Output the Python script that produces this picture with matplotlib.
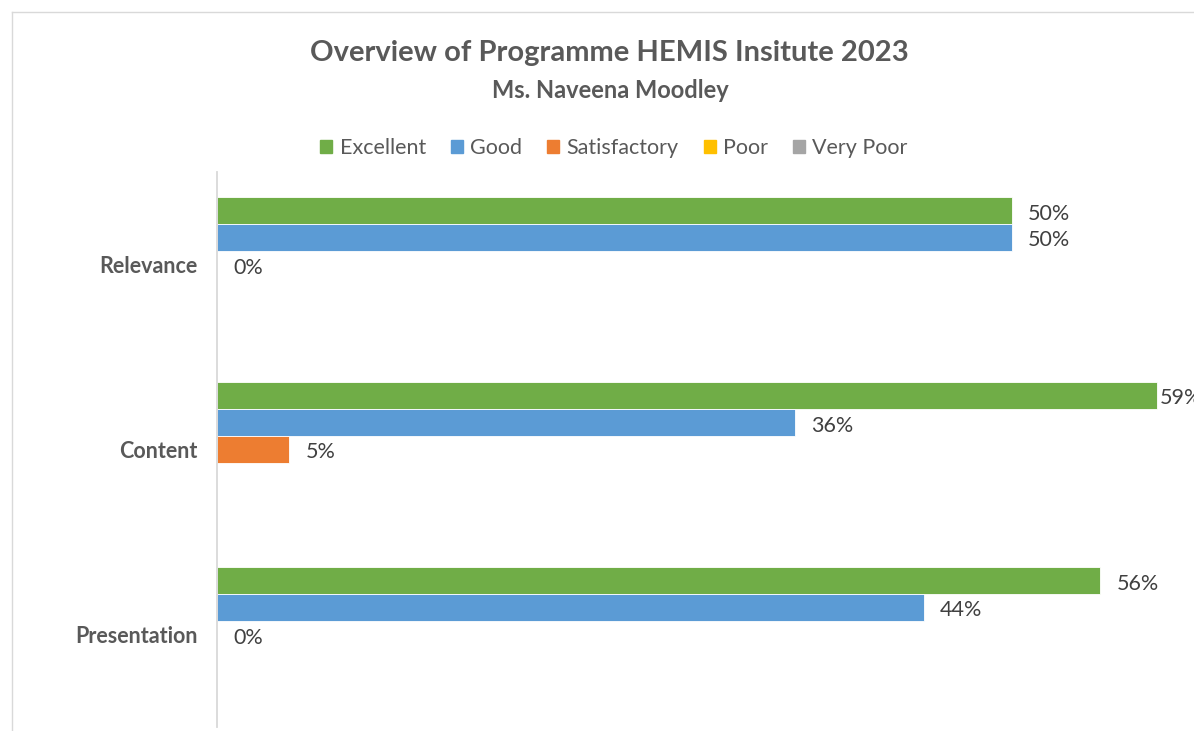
import numpy as np
import matplotlib.pyplot as plt
from matplotlib.patches import Patch
from matplotlib.lines import Line2D

plt.rcParams['font.family'] = ['Lato', 'DejaVu Sans']

categories = ['Relevance', 'Content', 'Presentation']
series_names = ['Excellent', 'Good', 'Satisfactory', 'Poor', 'Very Poor']
colors = ['#70AD47', '#5B9BD5', '#ED7D31', '#FFC000', '#A5A5A5']

excellent = [0.50, 0.5909, 0.5556]
good = [0.50, 0.3636, 0.4444]
satisfactory = [0.0, 0.0455, 0.0]
poor = [np.nan, np.nan, np.nan]
very_poor = [np.nan, np.nan, np.nan]
values = [excellent, good, satisfactory, poor, very_poor]

W, H = 1194, 731
fig = plt.figure(figsize=(W / 100, H / 100), dpi=100)

# chart frame (partly cropped in the reference)
fig.add_artist(Line2D([12 / W, 12 / W], [0, 1 - 12 / H], color='#d9d9d9', lw=1))
fig.add_artist(Line2D([12 / W, 1], [1 - 12 / H, 1 - 12 / H], color='#d9d9d9', lw=1))

ax_left, ax_top, ax_bottom = 217, 172, 727
ax = fig.add_axes([ax_left / W, 1 - ax_bottom / H, (W - ax_left + 5) / W, (ax_bottom - ax_top) / H])

px_per_unit = 15.9 * 100  # pixels per 1.0 (100%)
xmax = (W - ax_left + 5) / px_per_unit
ax.set_xlim(0, xmax)
ax.set_ylim(len(categories) - 0.5, -0.5)

h = 27 / 185
y = np.arange(len(categories))
for i, (name, vals, col) in enumerate(zip(series_names, values, colors)):
    pos = y + (i - 2) * h
    ax.barh(pos, vals, height=h, color=col, label=name, edgecolor='white', linewidth=0.6)
    for p, v in zip(pos, vals):
        if np.isnan(v):
            continue
        end_px = v * px_per_unit
        off = 16 if end_px + 16 + 40 < W - ax_left else 3
        ax.annotate(f'{v:.0%}', (v, p), xytext=(off, -3), textcoords='offset pixels',
                    va='center', ha='left', fontsize=15.5, color='#404040', annotation_clip=False)

ax.set_yticks(y)
ax.set_yticklabels(categories, fontsize=15.5, fontweight='bold', color='#595959')
ax.tick_params(axis='y', length=0, pad=14)
ax.set_xticks([])
for s in ['top', 'right', 'bottom']:
    ax.spines[s].set_visible(False)
ax.spines['left'].set_color('#d9d9d9')
ax.spines['left'].set_linewidth(1.3)

fig.text(609 / W, 1 - 53 / H, 'Overview of Programme HEMIS Insitute 2023', ha='center', va='center',
         fontsize=21, fontweight='bold', color='#595959')
fig.text(610 / W, 1 - 90 / H, 'Ms. Naveena Moodley', ha='center', va='center',
         fontsize=17, fontweight='bold', color='#595959')

handles = [Patch(color=c) for c in colors]
fig.legend(handles, series_names, loc='center', bbox_to_anchor=(614 / W, 1 - 148 / H), ncol=5,
           frameon=False, fontsize=15.5, handlelength=0.56, handleheight=0.56, handletextpad=0.35,
           columnspacing=1.15, labelcolor='#595959')

fig.savefig('out.png', dpi=100)
